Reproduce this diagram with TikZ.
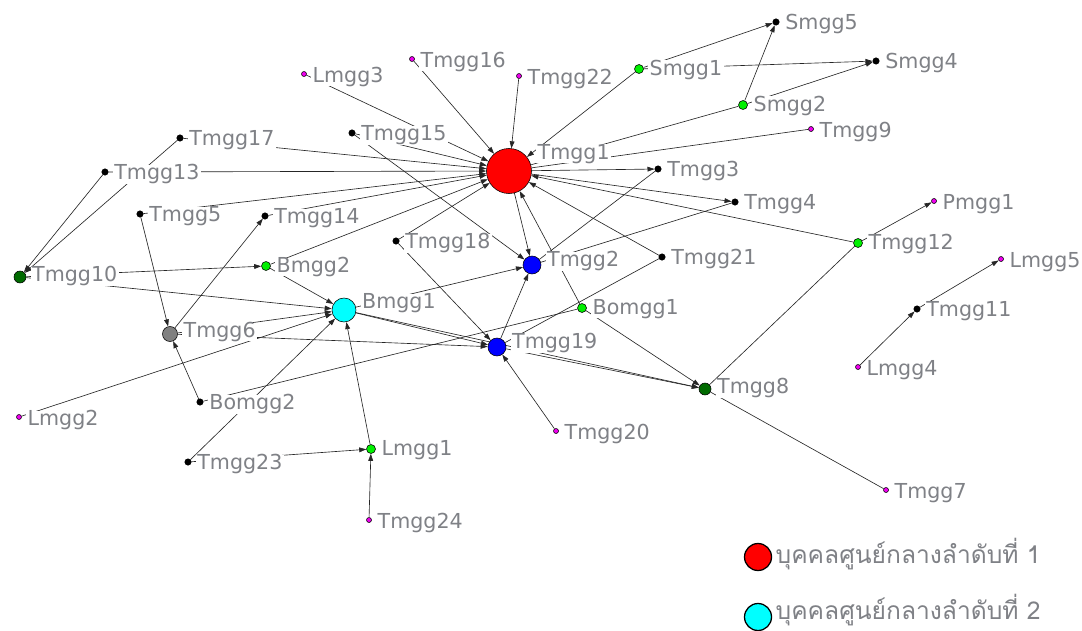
\documentclass[tikz,border=0pt]{standalone}
\usepackage{fontspec}
\setmainfont{DejaVu Sans}
\newfontfamily\thaifont[Script=Thai]{Loma}
\usepackage{tikz}
\usetikzlibrary{arrows.meta,positioning,calc}
\definecolor{labgray}{HTML}{7F8186}
\definecolor{tiegray}{HTML}{262626}
\definecolor{dgreen}{HTML}{006A00}
\definecolor{lgreen}{HTML}{00F000}
\definecolor{pink}{HTML}{F000F0}
\definecolor{aqua}{HTML}{00FFFF}
\pgfdeclarelayer{paper}
\pgfdeclarelayer{edges}
\pgfsetlayers{paper,edges,main}
\tikzset{
  vx/.style={circle, draw=black, line width=0.4pt, inner sep=0pt},
  redv/.style={vx, fill=red, minimum size=1.125cm},
  bluev/.style={vx, fill=blue, minimum size=0.45cm},
  cyanv/.style={vx, fill=aqua, minimum size=0.6cm},
  grayv/.style={vx, fill=gray, minimum size=0.375cm},
  dgreenv/.style={vx, fill=dgreen, minimum size=0.3cm},
  greenv/.style={vx, fill=lgreen, minimum size=0.225cm},
  blackv/.style={vx, fill=black, minimum size=0.16cm},
  pinkv/.style={vx, fill=pink, minimum size=0.125cm},
  lbl/.style={anchor=north west, fill=white, inner xsep=0.04cm, inner ysep=0pt,
              text height=1.05em, text depth=0.28em, text=labgray,
              font=\fontsize{14.66}{17}\selectfont},
  keyv/.style={vx, line width=0.9pt, minimum size=0.675cm},
  keytxt/.style={anchor=west, inner sep=0pt, text=labgray,
                 font=\thaifont\fontsize{17.5}{20}\selectfont},
  tie/.style={draw=tiegray, line width=0.45pt},
  dtie/.style={tie, -{Triangle[length=5pt,width=3.4pt]}},
}

\begin{document}
\begin{tikzpicture}[x=0.025cm, y=-0.025cm]
\useasboundingbox (0,0) rectangle (1082,630);
\begin{pgfonlayer}{paper}
  \fill[white] (0,0) rectangle (1082,630);
\end{pgfonlayer}

% actors
\foreach \n/\x/\y/\k/\t in {
  t1/509/171/redv/Tmgg1, t2/532/265/bluev/Tmgg2, t19/497/347/bluev/Tmgg19,
  b1/344/310/cyanv/Bmgg1, t6/170/334/grayv/Tmgg6,
  t10/20/277/dgreenv/Tmgg10, t8/705/389/dgreenv/Tmgg8,
  b2/266/266/greenv/Bmgg2, bo1/582/308/greenv/Bomgg1, t12/858/243/greenv/Tmgg12,
  s1/639/69/greenv/Smgg1, s2/743/105/greenv/Smgg2, l1/371/449/greenv/Lmgg1,
  s5/776/22/blackv/Smgg5, s4/876/61/blackv/Smgg4, t3/658/169/blackv/Tmgg3,
  t4/735/202/blackv/Tmgg4, t21/662/257/blackv/Tmgg21, t11/917/309/blackv/Tmgg11,
  t17/180/138/blackv/Tmgg17, t13/105/172/blackv/Tmgg13, t15/352/133/blackv/Tmgg15,
  t5/140/214/blackv/Tmgg5, t14/265/216/blackv/Tmgg14, t18/396/241/blackv/Tmgg18,
  bo2/200/402/blackv/Bomgg2, t23/188/462/blackv/Tmgg23,
  l3/304/74/pinkv/Lmgg3, t16/412/59/pinkv/Tmgg16, t22/519/76/pinkv/Tmgg22,
  t9/811/129/pinkv/Tmgg9, p1/934/201/pinkv/Pmgg1, l5/1001/259/pinkv/Lmgg5,
  l4/858/367/pinkv/Lmgg4, t20/556/431/pinkv/Tmgg20, t7/886/490/pinkv/Tmgg7,
  l2/19/417/pinkv/Lmgg2, t24/369/520/pinkv/Tmgg24}
{
  \node[\k] (\n) at (\x,\y) {};
  \node[lbl] (\n-l) at ($(\n.north -| \n.east)+(4,-4)$) {\t};
}

% ties
\begin{pgfonlayer}{edges}
\foreach \a/\b in {t16/t1, t22/t1, l3/t1, t15/t1, t17/t1, t13/t1, t5/t1, t14/t1,
  b2/t1, t18/t1, s1/t1, t12/t1, t21/t1, bo1/t1, t1/t2, t1/t3, t1/t4,
  t15/t2, b1/t2, t19/t2, t18/t19, t6/t19, b1/t19, t20/t19, t19/t8, bo1/t8, b1/t8,
  s1/s5, s2/s5, s1/s4, s2/s4, t12/p1, t11/l5, l4/t11,
  t5/t6, bo2/t6, t6/t14, t13/t10, t17/t10, t10/b2, t10/b1,
  t6/b1, l2/b1, t23/b1, b2/b1, l1/b1, t23/l1, t24/l1}
  \draw[dtie] (\a) -- (\b);
\foreach \a/\b in {s2/t1, t9/t1, t2/t3, t2/t4, t21/t19, t8/t12, t8/t7, bo2/bo1}
  \draw[tie] (\a) -- (\b);
\end{pgfonlayer}

% key
\node[keyv, fill=red] (k1) at (758,557) {};
\node[keytxt, right=0.08cm of k1, yshift=0.08cm] (k1-t) {บุคคลศูนย์กลางลำดับที่ 1};
\node[keyv, fill=aqua] (k2) at (758,617) {};
\node[keytxt, right=0.08cm of k2, yshift=0.17cm] (k2-t) {บุคคลศูนย์กลางลำดับที่ 2};
\end{tikzpicture}
\end{document}
